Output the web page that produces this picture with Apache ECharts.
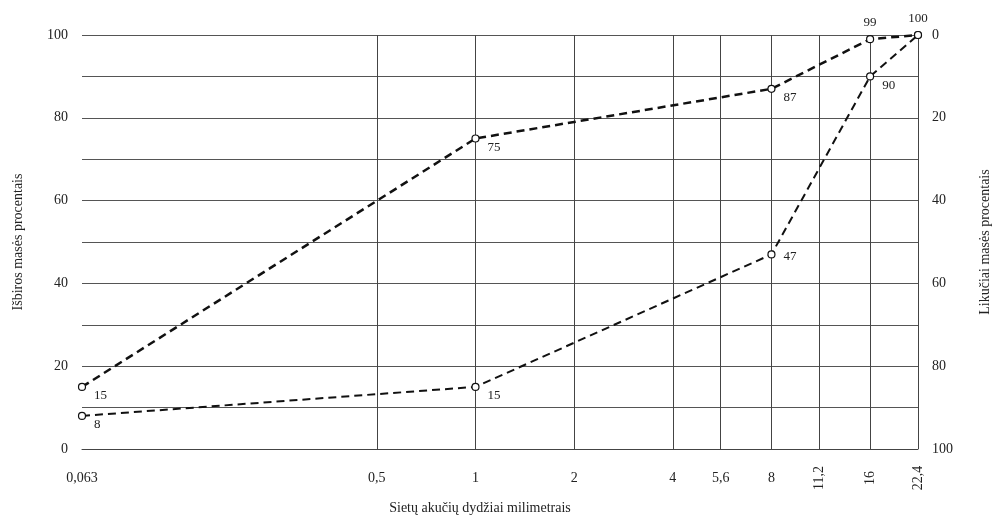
<!DOCTYPE html>
<html>
<head>
<meta charset="utf-8">
<script src="https://cdn.jsdelivr.net/npm/echarts@6/dist/echarts.min.js"></script>
<style>html,body{margin:0;padding:0;background:#fff}#c{width:992px;height:520px}</style>
</head>
<body>
<div id="c"></div>
<script>
// ---- data ----
const sieveSizes = [0.063, 1, 8, 16, 22.4];
const passingUpper = [15, 75, 87, 99, 100];
const passingLower = [8, 15, 47, 90, 100];
const xTicks = [0.063, 0.5, 1, 2, 4, 5.6, 8, 11.2, 16, 22.4];
const xTicksRotated = [11.2, 16, 22.4];
const leftAxisName = 'Išbiros masės procentais';
const rightAxisName = 'Likučiai masės procentais';
const xAxisName = 'Sietų akučių dydžiai milimetrais';

// ---- styling (label placement per point) ----
const upperLabelPos = ['br', 'br', 'br', 'top', 'top'];
const lowerLabelPos = ['br', 'br', 'r', 'br', 'none'];

const FONT = '"Liberation Serif", "DejaVu Serif", serif';
const fmt = v => String(v).replace('.', ',');

function labelCfg(p) {
  if (p === 'none') return { show: false };
  if (p === 'top') return { show: true, position: 'top', distance: 6 };
  if (p === 'r') return { show: true, position: 'right', distance: 8, offset: [0, 2] };
  return { show: true, position: 'right', distance: 6, offset: [2, 9] };
}

function buildSeries(vals, pos) {
  return sieveSizes.map((x, i) => ({ value: [x, vals[i]], label: labelCfg(pos[i]) }));
}

const chart = echarts.init(document.getElementById('c'), null, { renderer: 'canvas' });
const lineCommon = {
  type: 'line',
  symbol: 'circle',
  symbolSize: 7,
  clip: false,
  z: 5,
  itemStyle: { color: '#fff', borderColor: '#111', borderWidth: 1.2 },
  label: { color: '#222', fontFamily: FONT, fontSize: 13, formatter: p => p.value[1] }
};

chart.setOption({
  animation: false,
  backgroundColor: '#fff',
  textStyle: { fontFamily: FONT },
  grid: { left: 82, right: 74, top: 35, bottom: 71, containLabel: false, outerBoundsMode: 'none' },
  xAxis: {
    type: 'log', logBase: 2, min: 0.063, max: 22.4,
    name: xAxisName, nameLocation: 'middle', nameGap: 52,
    nameTextStyle: { fontFamily: FONT, fontSize: 14, color: '#222', padding: [0, 40, 0, 0] },
    axisLine: { show: true, lineStyle: { color: '#444', width: 1 } },
    axisTick: { show: false }, axisLabel: { show: false }, splitLine: { show: false }, minorTick: { show: false }
  },
  yAxis: [{
    type: 'value', min: 0, max: 100, interval: 10, position: 'left',
    name: leftAxisName, nameLocation: 'middle', nameGap: 57, nameRotate: 90,
    nameTextStyle: { fontFamily: FONT, fontSize: 14, color: '#222' },
    axisLine: { show: false }, axisTick: { show: false },
    axisLabel: { fontFamily: FONT, fontSize: 14, color: '#222', margin: 14, formatter: v => (v % 20 === 0 ? String(v) : '') },
    splitLine: { show: true, lineStyle: { color: '#555', width: 1 } }
  }, {
    type: 'value', min: 0, max: 100, interval: 20, position: 'right', inverse: true,
    name: rightAxisName, nameLocation: 'middle', nameGap: 60, nameRotate: 90,
    nameTextStyle: { fontFamily: FONT, fontSize: 14, color: '#222' },
    axisLine: { show: false }, axisTick: { show: false },
    axisLabel: { fontFamily: FONT, fontSize: 14, color: '#222', margin: 14 },
    splitLine: { show: false }
  }],
  series: [
    Object.assign({}, lineCommon, {
      name: 'upper',
      data: buildSeries(passingUpper, upperLabelPos),
      lineStyle: { color: '#111', width: 2.5, type: [8, 5] }
    }),
    Object.assign({}, lineCommon, {
      name: 'lower',
      data: buildSeries(passingLower, lowerLabelPos),
      lineStyle: { color: '#111', width: 2, type: [8, 5] }
    }),
    {
      name: 'xticks',
      type: 'scatter',
      silent: true,
      clip: false,
      symbol: 'circle',
      symbolSize: 0,
      z: 6,
      itemStyle: { color: '#fff', opacity: 0 },
      data: xTicks.map(v => {
        const rot = xTicksRotated.indexOf(v) >= 0;
        return { value: [v, 0], label: { rotate: rot ? 90 : 0 } };
      }),
      label: {
        show: true, position: [0, 29], align: 'center', verticalAlign: 'middle',
        fontFamily: FONT, fontSize: 14, color: '#222', opacity: 1,
        textBorderWidth: 0,
        formatter: p => fmt(p.value[0])
      },
      markLine: {
        silent: true, symbol: 'none', animation: false,
        label: { show: false },
        lineStyle: { color: '#444', width: 1, type: 'solid', opacity: 1 },
        emphasis: { disabled: true },
        data: xTicks.map(v => ({ xAxis: v }))
      }
    }
  ]
});
</script>
</body>
</html>
